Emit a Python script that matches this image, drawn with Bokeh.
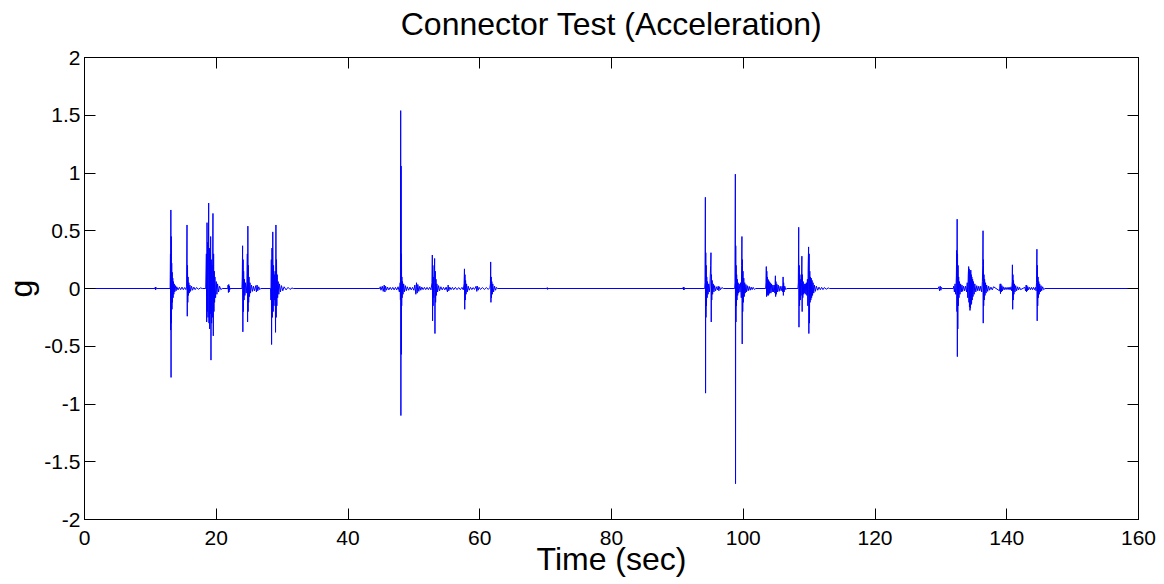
from bokeh.plotting import figure
from bokeh.models import Range1d, FixedTicker, LinearAxis, NumeralTickFormatter, ColumnDataSource
from bokeh.embed import file_html
from bokeh.resources import INLINE

title_text = "Connector Test (Acceleration)"
x_label = "Time (sec)"
y_label = "g"
x_ticks = [0, 20, 40, 60, 80, 100, 120, 140, 160]
y_ticks = [-2, -1.5, -1, -0.5, 0, 0.5, 1, 1.5, 2]

# (time s, acceleration g) samples, burst by burst
start = [(0.0, 0.0)]
blip_11s = [(10.7, 0), (10.75, 0.012), (10.8, -0.012), (10.85, 0.01), (10.9, 0)]
burst_13s = [(13.00, 0), (13.05, 0.30), (13.08, -0.36), (13.11, 0.68), (13.14, -0.77), (13.17, 0.45),
             (13.20, -0.30), (13.24, 0.22), (13.28, -0.18), (13.32, 0.14), (13.36, -0.12), (13.40, 0.09),
             (13.45, -0.08), (13.50, 0.06), (13.56, -0.05), (13.62, 0.04), (13.70, -0.03), (13.80, 0.025),
             (13.90, -0.02), (14.0, 0.015), (14.2, -0.012), (14.4, 0.01), (14.6, -0.01), (14.8, 0.012),
             (15.0, -0.01), (15.2, 0.008)]
burst_16s = [(15.40, -0.01), (15.50, 0.02), (15.56, 0.55), (15.60, -0.24), (15.64, 0.20), (15.68, -0.12),
             (15.72, 0.10), (15.78, -0.06), (15.84, 0.05), (15.90, -0.04), (16.0, 0.03), (16.1, -0.025),
             (16.25, 0.02), (16.4, -0.015), (16.6, 0.012), (16.8, -0.01), (17.0, 0.008), (17.3, -0.006),
             (17.6, 0.005), (17.9, 0)]
burst_19s = [(18.40, 0), (18.50, 0.30), (18.55, -0.29), (18.60, 0.57), (18.65, -0.20), (18.70, 0.40),
             (18.75, -0.25), (18.85, 0.74), (18.90, -0.30), (18.95, 0.35), (19.00, -0.35), (19.05, 0.30),
             (19.10, -0.22), (19.15, 0.45), (19.20, -0.62), (19.25, 0.25), (19.30, -0.30), (19.35, 0.20),
             (19.40, -0.25), (19.50, 0.65), (19.55, -0.41), (19.60, 0.30), (19.65, -0.20), (19.70, 0.15),
             (19.75, -0.12), (19.80, 0.10), (19.90, -0.08), (20.0, 0.06), (20.1, -0.05), (20.2, 0.04),
             (20.35, -0.03), (20.5, 0.02), (20.7, -0.01), (20.9, 0)]
blip_22s = [(21.75, 0), (21.8, 0.03), (21.85, -0.035), (21.9, 0.035), (21.95, -0.03), (22.0, 0.02),
            (22.05, -0.01), (22.1, 0)]
burst_24s = [(23.90, 0), (23.95, 0.10), (24.00, 0.37), (24.04, -0.375), (24.08, 0.25), (24.12, -0.20),
             (24.16, 0.15), (24.22, -0.10), (24.28, 0.08), (24.35, -0.06), (24.45, 0.05), (24.55, -0.04),
             (24.65, 0.04), (24.72, 0.30), (24.76, -0.29), (24.80, 0.54), (24.84, -0.20), (24.88, 0.20),
             (24.92, -0.12), (24.98, 0.10), (25.05, -0.07), (25.12, 0.05), (25.2, -0.04), (25.35, 0.03),
             (25.5, -0.025), (25.65, 0.02), (25.8, -0.02), (26.0, 0.025), (26.1, -0.03), (26.2, 0.03),
             (26.3, -0.02), (26.45, 0.015), (26.6, -0.01), (26.75, 0)]
burst_29s = [(28.25, 0), (28.30, -0.10), (28.36, 0.25), (28.40, -0.485), (28.46, 0.35), (28.52, -0.25),
             (28.58, 0.49), (28.64, -0.20), (28.70, 0.20), (28.76, -0.15), (28.82, 0.12), (28.88, -0.10),
             (28.94, 0.15), (29.00, -0.38), (29.06, 0.55), (29.10, -0.25), (29.15, 0.25), (29.20, -0.15),
             (29.25, 0.12), (29.32, -0.08), (29.40, 0.06), (29.50, -0.05), (29.60, 0.04), (29.75, -0.03),
             (29.9, 0.025), (30.1, -0.02), (30.3, 0.015), (30.6, -0.012), (30.9, 0.01), (31.2, -0.008),
             (31.5, 0.005), (31.7, 0)]
noise_46s = [(44.8, 0), (44.9, 0.015), (45.0, -0.015), (45.2, 0.02), (45.35, -0.025), (45.5, 0.03),
             (45.6, -0.03), (45.7, 0.02), (45.85, -0.015), (46.0, 0.012), (46.2, -0.012), (46.4, 0.01),
             (46.6, -0.01), (46.8, 0.01), (47.0, -0.012), (47.2, 0.01), (47.4, -0.012), (47.6, 0.015),
             (47.8, -0.03)]
burst_48s = [(47.92, 0.05), (47.96, -0.10), (48.00, 1.54), (48.03, -1.10), (48.06, 1.06), (48.09, -0.57),
             (48.12, 0.30), (48.15, -0.15), (48.18, 0.10), (48.22, -0.08), (48.28, 0.06), (48.35, -0.05),
             (48.45, 0.04), (48.55, -0.03), (48.7, 0.025), (48.85, -0.02), (49.0, 0.015), (49.2, -0.015),
             (49.4, 0.012), (49.6, -0.012), (49.8, 0.01), (50.0, -0.015), (50.15, 0.03), (50.3, -0.05),
             (50.4, 0.05), (50.5, -0.04), (50.6, 0.035), (50.75, -0.025), (50.9, 0.02), (51.05, -0.015),
             (51.2, 0.012), (51.4, -0.01), (51.6, 0.01), (51.8, -0.01), (52.0, 0.01), (52.2, -0.01),
             (52.4, 0.01), (52.6, -0.012)]
burst_53s = [(52.75, 0.05), (52.80, 0.29), (52.84, -0.28), (52.88, 0.20), (52.92, -0.15), (52.96, 0.10),
             (53.02, -0.08), (53.08, 0.05), (53.15, 0.26), (53.20, -0.39), (53.25, 0.15), (53.30, -0.12),
             (53.36, 0.08), (53.42, -0.06), (53.5, 0.04), (53.6, -0.03), (53.75, 0.025), (53.9, -0.02),
             (54.1, 0.015), (54.3, -0.012), (54.5, 0.01), (54.7, -0.012), (54.9, 0.012), (55.1, -0.03),
             (55.2, 0.03), (55.3, -0.02), (55.45, 0.012), (55.65, -0.01), (55.85, 0.01), (56.05, -0.01),
             (56.3, 0.01), (56.55, -0.01), (56.8, 0.008), (57.05, -0.01), (57.3, 0.01), (57.5, -0.012)]
burst_58s = [(57.62, 0.04), (57.68, 0.17), (57.72, -0.18), (57.76, 0.12), (57.80, -0.10), (57.85, 0.07),
             (57.92, -0.05), (58.0, 0.04), (58.1, -0.03), (58.25, 0.02), (58.4, -0.015), (58.6, 0.01),
             (58.8, -0.01), (59.0, 0.008), (59.2, -0.008), (59.45, 0.02), (59.55, -0.025), (59.65, 0.02),
             (59.75, -0.015), (59.9, 0.01), (60.1, -0.008), (60.4, 0.008), (60.7, -0.008), (61.0, 0.008),
             (61.3, -0.008), (61.55, 0.01)]
burst_62s = [(61.62, 0.04), (61.66, 0.23), (61.70, -0.12), (61.74, 0.10), (61.78, -0.08), (61.83, 0.06),
             (61.90, -0.05), (61.98, 0.04), (62.1, -0.03), (62.25, 0.02), (62.4, -0.015), (62.55, 0.01),
             (62.7, 0)]
blip_70s = [(70.2, 0), (70.25, 0.008), (70.3, -0.008), (70.35, 0)]
blip_91s = [(90.85, 0), (90.9, 0.012), (90.95, -0.012), (91.0, 0.012), (91.05, -0.01), (91.1, 0)]
burst_94s = [(94.15, 0), (94.20, 0.05), (94.25, 0.79), (94.28, -0.906), (94.31, 0.31), (94.34, -0.25),
             (94.38, 0.20), (94.42, -0.15), (94.46, 0.10), (94.52, -0.08), (94.58, 0.06), (94.66, -0.05),
             (94.75, 0.04), (94.85, -0.03), (94.95, 0.04), (95.05, 0.20), (95.10, 0.31), (95.14, -0.29),
             (95.18, 0.12), (95.22, -0.10), (95.28, 0.07), (95.35, -0.05), (95.45, 0.04), (95.55, -0.03),
             (95.65, 0.025), (95.8, -0.02), (95.95, 0.015), (96.1, -0.012), (96.2, 0.02), (96.3, -0.02),
             (96.4, 0.015), (96.55, -0.01), (96.75, 0.008), (97.0, 0)]
burst_99s = [(98.70, 0), (98.75, 0.05), (98.80, 0.99), (98.83, -1.69), (98.86, 0.37), (98.89, -0.29),
             (98.92, 0.20), (98.96, -0.15), (99.00, 0.12), (99.05, -0.10), (99.10, 0.08), (99.16, -0.06),
             (99.22, 0.05), (99.30, -0.04), (99.38, 0.04)]
burst_100s = [(99.50, -0.03), (99.60, 0.05), (99.70, -0.08), (99.76, 0.20), (99.80, 0.45), (99.84, -0.48),
              (99.88, 0.25), (99.92, -0.20), (99.96, 0.15), (100.02, -0.12), (100.08, 0.09), (100.15, -0.07),
              (100.22, 0.05), (100.3, -0.04), (100.4, 0.035), (100.5, -0.03), (100.6, 0.025), (100.75, -0.02),
              (100.9, 0.018), (101.05, -0.015), (101.2, 0.012), (101.35, -0.01), (101.5, 0.01),
              (101.7, -0.008), (101.9, 0)]
burst_104s = [(103.40, 0), (103.45, 0.05), (103.50, 0.19), (103.54, -0.07), (103.58, 0.15), (103.62, -0.06),
              (103.66, 0.10), (103.70, -0.05), (103.75, 0.08), (103.80, -0.06), (103.85, 0.07), (103.90, -0.05),
              (103.95, 0.06), (104.0, -0.04), (104.1, 0.05), (104.2, -0.04), (104.3, 0.04), (104.4, -0.03),
              (104.5, 0.03), (104.6, -0.03), (104.7, 0.03), (104.8, -0.04), (104.88, 0.11), (104.92, -0.07),
              (104.96, 0.06), (105.02, -0.05), (105.1, 0.04), (105.2, -0.03), (105.3, 0.03), (105.45, -0.025),
              (105.6, 0.02), (105.75, -0.02), (105.9, 0.02), (106.0, -0.03), (106.05, 0.10), (106.09, -0.06),
              (106.13, 0.05), (106.2, -0.03), (106.3, 0.02), (106.45, -0.01), (106.6, 0)]
burst_109s = [(108.30, 0), (108.36, 0.05), (108.42, 0.53), (108.46, -0.335), (108.50, 0.20), (108.55, -0.15),
              (108.60, 0.12), (108.66, -0.10), (108.72, 0.08), (108.78, -0.06), (108.84, 0.05), (108.90, 0.28),
              (108.94, -0.20), (108.98, 0.12), (109.04, -0.08), (109.10, 0.06), (109.18, -0.05), (109.26, 0.04),
              (109.34, -0.04), (109.42, 0.04), (109.50, -0.05), (109.58, 0.05), (109.66, -0.06), (109.74, 0.08),
              (109.80, -0.15), (109.86, 0.20), (109.92, 0.36), (109.96, -0.39), (110.00, 0.30), (110.05, -0.30),
              (110.10, 0.15), (110.15, -0.12), (110.20, 0.10), (110.26, -0.10), (110.32, 0.09), (110.38, -0.08),
              (110.45, 0.07), (110.52, -0.06), (110.6, 0.05), (110.7, -0.04), (110.8, 0.03), (110.95, -0.025),
              (111.1, 0.02), (111.3, -0.015), (111.5, 0.012), (111.7, -0.01), (111.9, 0.01), (112.1, -0.01),
              (112.3, 0.008), (112.6, -0.006), (112.9, 0.005), (113.1, 0)]
blip_130s = [(129.6, 0), (129.7, 0.015), (129.8, -0.02), (129.9, 0.02), (130.0, -0.015), (130.1, 0.01),
             (130.2, 0)]
burst_132s = [(131.9, 0), (131.95, 0.02), (132.05, -0.03), (132.15, 0.04), (132.25, -0.05), (132.35, 0.10),
              (132.40, 0.33), (132.44, -0.20), (132.47, 0.60), (132.50, -0.59), (132.53, 0.30), (132.57, -0.35),
              (132.61, 0.20), (132.65, -0.15), (132.70, 0.10), (132.75, -0.08), (132.82, 0.06), (132.9, -0.05),
              (133.0, 0.04), (133.1, -0.03), (133.2, 0.03), (133.3, -0.025), (133.45, 0.02), (133.6, -0.02),
              (133.75, 0.02)]
burst_134s = [(133.9, -0.03), (134.0, 0.05), (134.08, -0.08), (134.16, 0.12), (134.22, 0.19), (134.26, -0.12),
              (134.30, 0.17), (134.34, -0.16), (134.38, 0.15), (134.42, -0.19), (134.46, 0.14), (134.50, -0.17),
              (134.54, 0.16), (134.58, -0.14), (134.62, 0.12), (134.66, -0.13), (134.70, 0.10), (134.76, -0.10),
              (134.82, 0.08), (134.88, -0.07), (134.95, 0.06), (135.05, -0.05), (135.15, 0.04), (135.3, -0.03),
              (135.45, 0.025), (135.6, -0.02), (135.75, 0.02), (135.9, -0.02), (136.05, 0.02), (136.2, -0.03)]
burst_136s = [(136.30, 0.06), (136.36, 0.20), (136.40, 0.50), (136.43, -0.30), (136.46, 0.25), (136.50, -0.15),
              (136.54, 0.12), (136.58, -0.10), (136.64, 0.08), (136.70, -0.06), (136.78, 0.05), (136.86, -0.04),
              (136.95, 0.03), (137.1, -0.025), (137.25, 0.02), (137.4, -0.015), (137.6, 0.012), (137.8, -0.012),
              (138.0, 0.015)]
burst_139s = [(138.9, -0.02), (139.0, 0.04), (139.05, -0.045), (139.1, 0.04), (139.18, -0.03), (139.26, 0.025),
              (139.35, -0.02), (139.45, 0.015), (139.6, -0.012), (139.75, 0.01), (139.9, -0.01), (140.05, 0.01),
              (140.2, -0.01), (140.35, 0.012), (140.5, -0.012), (140.65, 0.015), (140.75, -0.02)]
burst_141s = [(140.82, 0.06), (140.86, 0.205), (140.90, -0.18), (140.94, 0.12), (140.98, -0.10), (141.03, 0.07),
              (141.09, -0.05), (141.16, 0.04), (141.25, -0.03), (141.35, 0.025), (141.5, -0.02), (141.65, 0.015),
              (141.8, -0.012), (141.95, 0.01), (142.1, -0.01)]
burst_143s = [(142.75, 0.01), (142.85, -0.02), (142.95, 0.03), (143.0, -0.03), (143.05, 0.025), (143.12, -0.02),
              (143.2, 0.015), (143.3, -0.012), (143.45, 0.01), (143.6, -0.01), (143.75, 0.01), (143.9, -0.01),
              (144.05, 0.01), (144.2, -0.01), (144.35, 0.01), (144.45, -0.02)]
burst_145s = [(144.52, 0.05), (144.58, 0.34), (144.62, -0.28), (144.66, 0.20), (144.70, -0.15), (144.75, 0.10),
              (144.80, -0.08), (144.86, 0.06), (144.93, -0.05), (145.0, 0.04), (145.1, -0.03), (145.2, 0.025),
              (145.3, -0.02), (145.45, 0.015), (145.6, -0.01), (145.8, 0)]
end = [(160.0, 0.0)]

segments = [start, blip_11s, burst_13s, burst_16s, burst_19s, blip_22s, burst_24s, burst_29s,
            noise_46s, burst_48s, burst_53s, burst_58s, burst_62s, blip_70s, blip_91s, burst_94s,
            burst_99s, burst_100s, burst_104s, burst_109s, blip_130s, burst_132s, burst_134s,
            burst_136s, burst_139s, burst_141s, burst_143s, burst_145s, end]

time_s = [t for seg in segments for t, _ in seg]
accel_g = [g for seg in segments for _, g in seg]
src = ColumnDataSource(data=dict(t=time_s, g=accel_g))

FONT = "Liberation Sans"

p = figure(width=1164, height=584,
           x_range=Range1d(0, 160), y_range=Range1d(-2, 2),
           output_backend="svg", toolbar_location=None,
           min_border_left=84, min_border_right=26, min_border_top=57, min_border_bottom=65,
           background_fill_color="white", border_fill_color="white")

p.line("t", "g", source=src, line_color="#0000ff", line_width=1)

p.xgrid.grid_line_color = None
p.ygrid.grid_line_color = None
p.outline_line_color = "black"
p.outline_line_alpha = 1.0


def style_axis(ax):
    ax.axis_line_color = "black"
    ax.major_tick_line_color = "black"
    ax.major_tick_in = 11
    ax.major_tick_out = 0
    ax.minor_tick_in = 0
    ax.minor_tick_out = 0
    ax.minor_tick_line_color = None
    ax.major_label_text_font = FONT
    ax.major_label_text_font_size = "21px"
    ax.major_label_text_color = "black"
    ax.axis_label_text_font = FONT
    ax.axis_label_text_font_style = "normal"
    ax.axis_label_text_color = "black"


xt = FixedTicker(ticks=x_ticks)
yt = FixedTicker(ticks=y_ticks)
fmt = NumeralTickFormatter(format="0.[0]")

p.xaxis.ticker = xt
p.yaxis.ticker = yt
p.xaxis.formatter = fmt
p.yaxis.formatter = fmt
style_axis(p.xaxis[0])
style_axis(p.yaxis[0])
p.xaxis.major_label_standoff = 11
p.yaxis.major_label_standoff = 4
p.xaxis.axis_label = x_label
p.xaxis.axis_label_text_font_size = "32px"
p.xaxis.axis_label_standoff = -7
p.yaxis.axis_label = y_label
p.yaxis.axis_label_text_font_size = "32px"
p.yaxis.axis_label_standoff = 2

# box ticks on the top and right edges: tick marks only, no labels;
# the top edge also carries the chart title
top_ax = LinearAxis(ticker=FixedTicker(ticks=[], minor_ticks=x_ticks), formatter=fmt)
right_ax = LinearAxis(ticker=FixedTicker(ticks=[], minor_ticks=y_ticks), formatter=fmt)
for ax in (top_ax, right_ax):
    ax.axis_line_color = "black"
    ax.major_tick_line_color = None
    ax.major_tick_in = 0
    ax.major_tick_out = 0
    ax.minor_tick_line_color = "black"
    ax.minor_tick_in = 11
    ax.minor_tick_out = 0
    ax.major_label_standoff = 0
top_ax.axis_label = title_text
top_ax.axis_label_text_font = FONT
top_ax.axis_label_text_font_size = "32px"
top_ax.axis_label_text_font_style = "normal"
top_ax.axis_label_text_color = "black"
top_ax.axis_label_standoff = 16
p.add_layout(top_ax, "above")
p.add_layout(right_ax, "right")

open("out.html", "w").write(file_html(p, INLINE))
